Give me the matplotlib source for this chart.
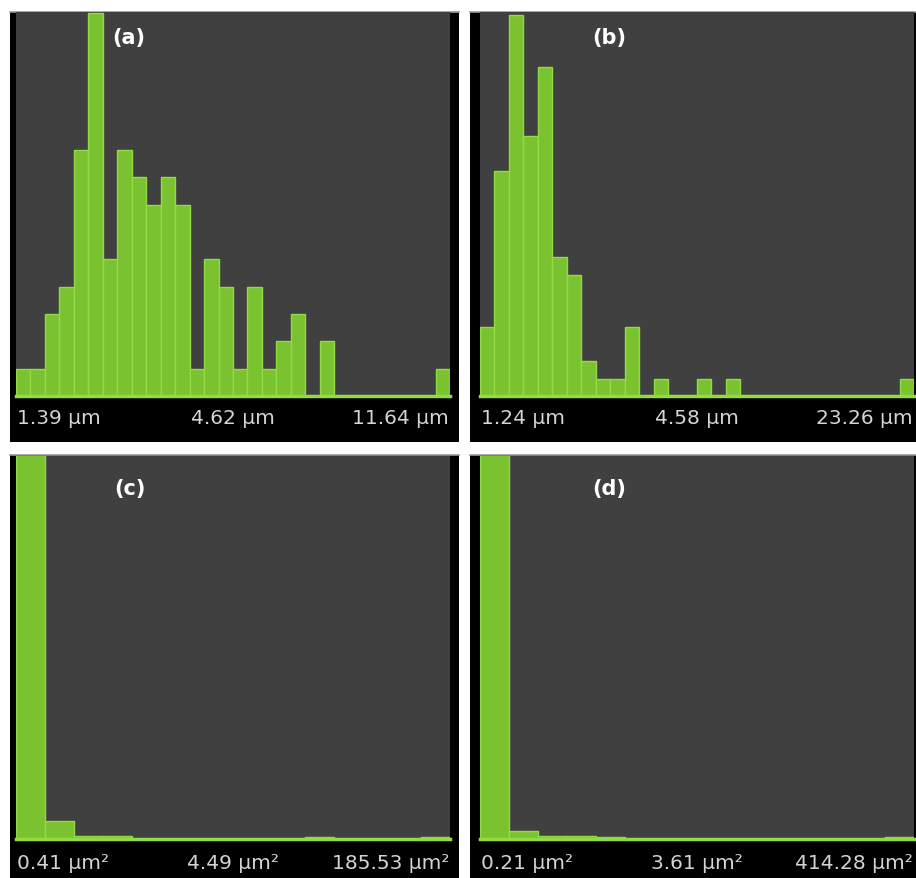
import numpy as np
import matplotlib
matplotlib.use("Agg")
import matplotlib.pyplot as plt

# counts per bin
counts_a = [1, 1, 3, 4, 9, 14, 5, 9, 8, 7, 8, 7, 1, 5, 4, 1, 4, 1, 2, 3, 0, 2, 0, 0, 0, 0, 0, 0, 0, 1]
counts_b = [4, 13, 22, 15, 19, 8, 7, 2, 1, 1, 4, 0, 1, 0, 0, 1, 0, 1, 0, 0, 0, 0, 0, 0, 0, 0, 0, 0, 0, 1]
counts_c = [300, 12, 2, 2, 0, 0, 0, 0, 0, 0, 1, 0, 0, 0, 1]
counts_d = [300, 5, 2, 2, 1, 0, 0, 0, 0, 0, 0, 0, 0, 0, 1]

ymax_a = 14.05
ymax_b = 22.15
ymax_c = 250
ymax_d = 250

panel_labels = ["(a)", "(b)", "(c)", "(d)"]
ticks_a = ["1.39 µm", "4.62 µm", "11.64 µm"]
ticks_b = ["1.24 µm", "4.58 µm", "23.26 µm"]
ticks_c = ["0.41 µm²", "4.49 µm²", "185.53 µm²"]
ticks_d = ["0.21 µm²", "3.61 µm²", "414.28 µm²"]

W, H = 916, 879
GREEN = "#7bc231"
EDGE = "#93db45"
BG = "#404040"
TXT = "#d4d4d4"

fig = plt.figure(figsize=(W / 100, H / 100), dpi=100)
fig.patch.set_facecolor("white")


def px_axes(x0, y0, x1, y1, **kw):
    return fig.add_axes([x0 / W, 1 - y1 / H, (x1 - x0) / W, (y1 - y0) / H], **kw)


def ftext(x, y, s, **kw):
    fig.text(x / W, 1 - y / H, s, **kw)


def panel(box, plot, counts, ymax, label, label_xy, ticks, tick_y):
    outer = px_axes(*box)
    outer.set_facecolor("black")
    outer.set_xticks([])
    outer.set_yticks([])
    for side, sp in outer.spines.items():
        sp.set_visible(side == "top")
    outer.spines["top"].set_color("#9a9a9a")
    outer.spines["top"].set_linewidth(1.2)

    ax = px_axes(*plot)
    ax.set_facecolor(BG)
    n = len(counts)
    ax.bar(np.arange(n), counts, width=1, align="edge",
           color=GREEN, edgecolor=EDGE, linewidth=1.0)
    ax.axhline(0, color=EDGE, lw=2.5, clip_on=False)
    ax.set_xlim(0, n)
    ax.set_ylim(0, ymax)
    ax.set_xticks([])
    ax.set_yticks([])
    for sp in ax.spines.values():
        sp.set_visible(False)

    ftext(label_xy[0], label_xy[1], label, color="white", fontsize=15,
          fontweight="bold", ha="center", va="center")

    x0, x1 = plot[0], plot[2]
    ftext(x0 + 1, tick_y, ticks[0], color=TXT, fontsize=14.5, ha="left", va="center")
    ftext((x0 + x1) / 2, tick_y, ticks[1], color=TXT, fontsize=14.5, ha="center", va="center")
    ftext(x1 - 1, tick_y, ticks[2], color=TXT, fontsize=14.5, ha="right", va="center")


panel((10, 13, 459, 443), (16, 13, 450, 397), counts_a, ymax_a,
      panel_labels[0], (129, 38), ticks_a, 419)
panel((470, 13, 916, 443), (480, 13, 914, 397), counts_b, ymax_b,
      panel_labels[1], (609, 38), ticks_b, 419)
panel((10, 456, 459, 879), (16, 457, 450, 840), counts_c, ymax_c,
      panel_labels[2], (130, 489), ticks_c, 864)
panel((470, 456, 916, 879), (480, 457, 914, 840), counts_d, ymax_d,
      panel_labels[3], (609, 489), ticks_d, 864)

fig.savefig("out.png", dpi=100, facecolor="white")
